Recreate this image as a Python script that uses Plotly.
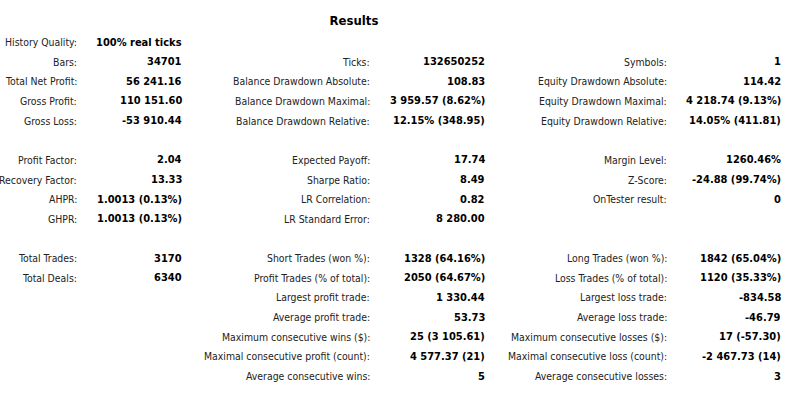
import plotly.graph_objects as go

title = "Results"

# rows 0..17, "" where the cell is empty
col1_labels = ["History Quality:", "Bars:", "Total Net Profit:", "Gross Profit:", "Gross Loss:", "",
               "Profit Factor:", "Recovery Factor:", "AHPR:", "GHPR:", "",
               "Total Trades:", "Total Deals:"]
col1_values = ["100% real ticks", "34701", "56 241.16", "110 151.60", "-53 910.44", "",
               "2.04", "13.33", "1.0013 (0.13%)", "1.0013 (0.13%)", "",
               "3170", "6340"]

col2_labels = ["", "Ticks:", "Balance Drawdown Absolute:", "Balance Drawdown Maximal:",
               "Balance Drawdown Relative:", "",
               "Expected Payoff:", "Sharpe Ratio:", "LR Correlation:", "LR Standard Error:", "",
               "Short Trades (won %):", "Profit Trades (% of total):", "Largest profit trade:",
               "Average profit trade:", "Maximum consecutive wins ($):",
               "Maximal consecutive profit (count):", "Average consecutive wins:"]
col2_values = ["", "132650252", "108.83", "3 959.57 (8.62%)", "12.15% (348.95)", "",
               "17.74", "8.49", "0.82", "8 280.00", "",
               "1328 (64.16%)", "2050 (64.67%)", "1 330.44", "53.73", "25 (3 105.61)",
               "4 577.37 (21)", "5"]

col3_labels = ["", "Symbols:", "Equity Drawdown Absolute:", "Equity Drawdown Maximal:",
               "Equity Drawdown Relative:", "",
               "Margin Level:", "Z-Score:", "OnTester result:", "", "",
               "Long Trades (won %):", "Loss Trades (% of total):", "Largest loss trade:",
               "Average loss trade:", "Maximum consecutive losses ($):",
               "Maximal consecutive loss (count):", "Average consecutive losses:"]
col3_values = ["", "1", "114.42", "4 218.74 (9.13%)", "14.05% (411.81)", "",
               "1260.46%", "-24.88 (99.74%)", "0", "", "",
               "1842 (65.04%)", "1120 (35.33%)", "-834.58", "-46.79", "17 (-57.30)",
               "-2 467.73 (14)", "3"]

# right edge of each text column, in x-axis units (page pixels)
label_x = [79, 372, 669]
value_x = [184, 487, 783]

FONT = "DejaVu Sans Condensed, DejaVu Sans, sans-serif"

annotations = []
columns = [(col1_labels, col1_values), (col2_labels, col2_values), (col3_labels, col3_values)]
for c, (labels, values) in enumerate(columns):
    for row, (lab, val) in enumerate(zip(labels, values)):
        if lab:
            annotations.append(dict(x=label_x[c], y=row, text=lab, xanchor="right", showarrow=False,
                                    font=dict(family=FONT, size=10.4, color="#222222")))
        if val:
            annotations.append(dict(x=value_x[c], y=row, text="<b>" + val + "</b>", xanchor="right",
                                    showarrow=False, font=dict(family=FONT, size=11, color="#000000")))

W, H = 806, 403
row_px = 19.65
top = -42 / row_px

fig = go.Figure()
fig.update_layout(
    width=W, height=H,
    margin=dict(l=0, r=0, t=0, b=0),
    paper_bgcolor="white", plot_bgcolor="white",
    title=dict(text="<b>" + title + "</b>", x=354 / W, xanchor="center",
               y=1 - 20 / H, yanchor="middle",
               font=dict(family=FONT, size=13, color="#000000")),
    xaxis=dict(range=[0, W], visible=False, fixedrange=True),
    yaxis=dict(range=[top + H / row_px, top], visible=False, fixedrange=True),
    annotations=annotations,
    showlegend=False,
)

# drop the default body margin so the figure fills the window from (0, 0)
fig.write_html("out.html", config={"displayModeBar": False},
               post_script="document.body.style.margin='0';document.body.style.overflow='hidden';")
